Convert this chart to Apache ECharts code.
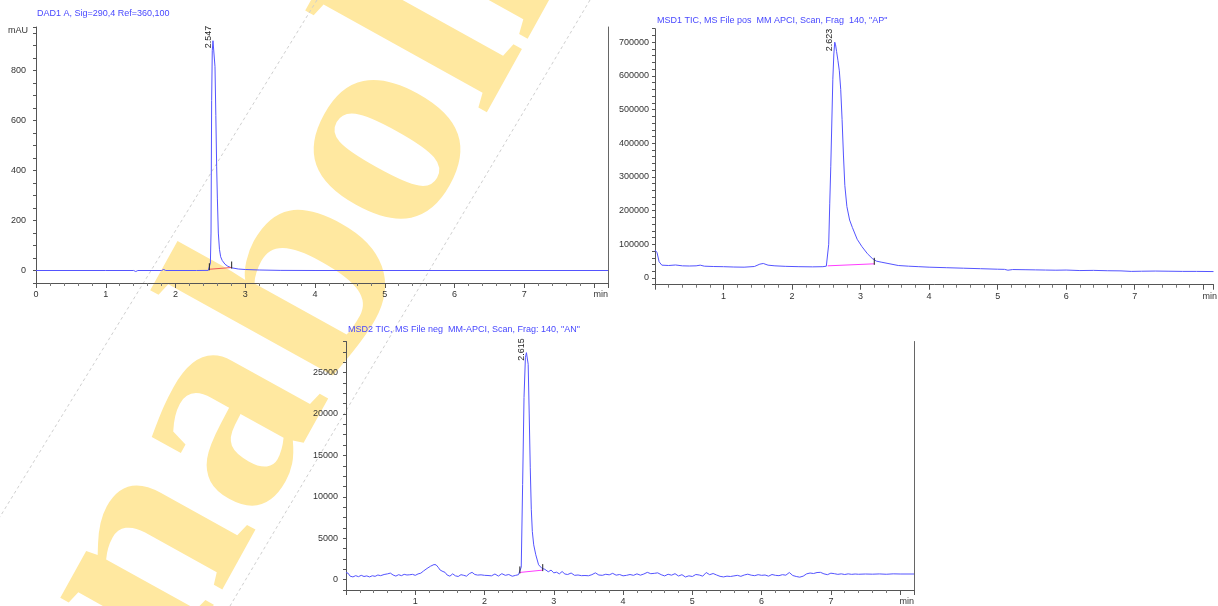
<!DOCTYPE html>
<html>
<head>
<meta charset="utf-8">
<title>DAD / MSD chromatograms</title>
<script src="https://cdn.jsdelivr.net/npm/echarts@6/dist/echarts.min.js"></script>
<style>
  html, body { margin: 0; padding: 0; background: #fff; }
  #chart { width: 1218px; height: 606px; }
</style>
</head>
<body>
<div id="chart"></div>
<script>
// DAD1 A trace (time in min, signal in mAU)
const dadTime = [0, 1.00, 1.40, 1.43, 1.46, 1.80, 1.83, 1.86, 2.30, 2.47,
  2.49, 2.50, 2.509, 2.518, 2.527, 2.537, 2.547, 2.555, 2.566, 2.578,
  2.59, 2.60, 2.614, 2.63, 2.647, 2.67, 2.71, 2.75, 2.80, 2.90,
  3.00, 3.20, 3.50, 4.00, 8.20];
const dadSignal = [0, 0, 0, -4, 0, 0, 4, 0, 0, 0.5,
  3, 30, 150, 680, 880, 920, 926, 912, 816, 620,
  415, 290, 150, 85, 55, 40, 25, 17, 11, 6,
  4, 2, 0.5, 0, 0];

// MSD1 TIC positive
const msd1Time = [0.00, 0.03, 0.06, 0.10, 0.20, 0.30, 0.40, 0.50, 0.60, 0.66,
  0.72, 0.85, 1.00, 1.15, 1.30, 1.45, 1.53, 1.58, 1.65, 1.75,
  1.90, 2.10, 2.30, 2.45, 2.50, 2.52, 2.535, 2.55, 2.565, 2.58,
  2.595, 2.61, 2.623, 2.635, 2.65, 2.67, 2.69, 2.71, 2.73, 2.75,
  2.77, 2.80, 2.84, 2.88, 2.95, 3.02, 3.10, 3.17, 3.23, 3.30,
  3.40, 3.55, 3.70, 3.85, 4.00, 4.25, 4.50, 4.75, 5.00, 5.10,
  5.15, 5.22, 5.40, 5.55, 5.70, 5.85, 6.00, 6.20, 6.40, 6.60,
  6.80, 6.95, 7.10, 7.30, 7.50, 7.70, 7.90, 8.15];
const msd1Signal = [83000, 75000, 48000, 38000, 37000, 38500, 36000, 35500, 36000, 38000,
  35000, 34000, 33500, 32500, 32000, 34000, 41000, 43000, 38000, 36000,
  34500, 33500, 33000, 33500, 35000, 40000, 100000, 220000, 330000, 460000,
  590000, 665000, 700000, 692000, 672000, 645000, 615000, 560000, 470000, 365000,
  275000, 212000, 172000, 150000, 115000, 93000, 72000, 58000, 50000, 47000,
  43000, 37000, 35000, 33500, 32000, 30500, 29000, 27500, 26000, 25500,
  23000, 25000, 24500, 24000, 23500, 23000, 23500, 22000, 22500, 21500,
  21000, 19500, 20000, 20500, 20000, 19500, 19500, 19000];

// MSD2 TIC negative
const msd2Time = [0.00, 0.03, 0.06, 0.10, 0.14, 0.18, 0.22, 0.26, 0.30, 0.34,
  0.38, 0.42, 0.46, 0.50, 0.55, 0.60, 0.64, 0.68, 0.72, 0.76,
  0.80, 0.84, 0.88, 0.92, 0.96, 1.00, 1.04, 1.08, 1.12, 1.17,
  1.22, 1.27, 1.30, 1.33, 1.36, 1.40, 1.43, 1.46, 1.50, 1.54,
  1.58, 1.62, 1.66, 1.70, 1.74, 1.78, 1.82, 1.86, 1.90, 1.95,
  2.00, 2.05, 2.10, 2.15, 2.20, 2.25, 2.30, 2.35, 2.40, 2.45,
  2.49, 2.51, 2.53, 2.55, 2.57, 2.59, 2.605, 2.615, 2.63, 2.645,
  2.66, 2.675, 2.69, 2.71, 2.74, 2.78, 2.83, 2.87, 2.92, 2.96,
  3.00, 3.04, 3.08, 3.12, 3.16, 3.20, 3.25, 3.30, 3.35, 3.40,
  3.45, 3.50, 3.55, 3.60, 3.65, 3.70, 3.75, 3.80, 3.85, 3.90,
  3.95, 4.00, 4.05, 4.10, 4.15, 4.20, 4.25, 4.30, 4.35, 4.40,
  4.45, 4.50, 4.55, 4.60, 4.65, 4.70, 4.75, 4.80, 4.85, 4.90,
  4.95, 5.00, 5.05, 5.10, 5.15, 5.20, 5.25, 5.30, 5.35, 5.40,
  5.45, 5.50, 5.55, 5.60, 5.65, 5.70, 5.75, 5.80, 5.85, 5.90,
  5.95, 6.00, 6.05, 6.10, 6.15, 6.20, 6.25, 6.30, 6.35, 6.40,
  6.45, 6.50, 6.55, 6.60, 6.65, 6.70, 6.75, 6.80, 6.85, 6.90,
  6.95, 7.00, 7.05, 7.10, 7.15, 7.20, 7.25, 7.30, 7.35, 7.40,
  7.50, 7.60, 7.70, 7.80, 7.90, 8.00, 8.20];
const msd2Signal = [850, 780, 420, 330, 480, 360, 520, 380, 450, 330,
  470, 400, 560, 480, 620, 700, 790, 560, 430, 600,
  480, 640, 560, 590, 640, 520, 690, 780, 1050, 1350,
  1620, 1820, 1790, 1500, 1150, 980, 880, 560, 420, 700,
  460, 380, 600, 520, 420, 720, 880, 620, 550, 580,
  520, 500, 460, 680, 430, 720, 520, 620, 410, 520,
  600, 700, 1500, 11500, 22000, 26800, 27400, 27500, 26000, 20000,
  13500, 8500, 5800, 4200, 3000, 1800, 1350, 1250, 950, 1150,
  820, 900, 700, 980, 680, 620, 800, 520, 560, 480,
  500, 470, 600, 820, 560, 520, 650, 580, 760, 540,
  620, 460, 520, 620, 520, 700, 540, 680, 880, 720,
  760, 820, 600, 450, 650, 540, 720, 440, 600, 320,
  460, 380, 620, 560, 420, 860, 600, 740, 560, 400,
  330, 420, 380, 450, 520, 400, 560, 660, 540, 480,
  600, 520, 560, 420, 620, 520, 480, 600, 540, 860,
  500, 380, 300, 420, 700, 800, 740, 860, 880, 700,
  600, 780, 720, 640, 700, 620, 700, 640, 680, 650,
  680, 660, 690, 650, 700, 680, 680];

// peak apex labels and integration baselines
const peakTimes = [2.547, 2.623, 2.615];
const peakHeights = [926, 700000, 27500];
const dadBaseTime = [2.485, 2.805];
const dadBaseValue = [5, 12];
const msd1BaseTime = [2.52, 3.20];
const msd1BaseValue = [36000, 42000];
const msd2BaseTime = [2.51, 2.84];
const msd2BaseValue = [870, 1150];

const titles = [
  'DAD1 A, Sig=290,4 Ref=360,100',
  'MSD1 TIC, MS File pos  MM APCI, Scan, Frag  140, "AP"',
  'MSD2 TIC, MS File neg  MM-APCI, Scan, Frag: 140, "AN"'
];

const FONT = '"Liberation Sans", Arial, sans-serif';
const traceColor = '#5454ff';
const axisColor = '#555';

const pair = (ts, vs) => ts.map((t, i) => [t, vs[i]]);

function timeAxis(gridIndex, max, showZero, minPastEnd) {
  return {
    type: 'value', gridIndex: gridIndex, min: 0, max: max, interval: 1,
    axisLine: { show: true, onZero: false, lineStyle: { color: axisColor } },
    axisTick: { show: true, length: 5, lineStyle: { color: axisColor } },
    minorTick: { show: true, splitNumber: 5, length: 3, lineStyle: { color: '#777' } },
    splitLine: { show: false },
    axisLabel: {
      margin: 7, fontSize: 9, color: '#333', fontFamily: FONT,
      formatter: v => (Number.isInteger(v) && v <= 7 && (showZero || v > 0)) ? String(v) : ''
    },
    name: 'min', nameLocation: 'end', nameGap: minPastEnd ? -11 : 0,
    nameTextStyle: { fontSize: 9, color: '#333', fontFamily: FONT, align: minPastEnd ? 'left' : 'right', verticalAlign: 'top', padding: [7, 0, 0, 0] }
  };
}

function signalAxis(gridIndex, min, max, interval, labelStep, margin) {
  return {
    type: 'value', gridIndex: gridIndex, min: min, max: max, interval: interval, position: 'left',
    axisLine: { show: true, onZero: false, lineStyle: { color: axisColor } },
    axisTick: { show: true, length: 3, lineStyle: { color: axisColor } },
    splitLine: { show: false },
    axisLabel: {
      margin: margin, fontSize: 9, color: '#333', fontFamily: FONT,
      formatter: v => (v >= 0 && v % labelStep === 0) ? String(v) : ''
    }
  };
}

function borderAxis(gridIndex) {
  return {
    type: 'value', gridIndex: gridIndex, position: 'right', min: 0, max: 1,
    axisLine: { show: true, onZero: false, lineStyle: { color: '#666' } },
    axisTick: { show: false }, axisLabel: { show: false }, splitLine: { show: false }
  };
}

function traceSeries(xi, yi, ts, vs) {
  return {
    type: 'line', xAxisIndex: xi, yAxisIndex: yi, data: pair(ts, vs),
    showSymbol: false, symbol: 'none', lineStyle: { color: traceColor, width: 1 }, z: 3
  };
}

function baselineSeries(xi, yi, ts, vs, color) {
  return {
    type: 'line', xAxisIndex: xi, yAxisIndex: yi, data: pair(ts, vs),
    showSymbol: false, symbol: 'none', lineStyle: { color: color, width: 1 }, z: 4
  };
}

function baseTickSeries(xi, yi, ts, vs) {
  return {
    type: 'custom', xAxisIndex: xi, yAxisIndex: yi, data: pair(ts, vs), z: 5,
    renderItem: (params, api) => {
      const p = api.coord([api.value(0), api.value(1)]);
      return { type: 'line', shape: { x1: p[0], y1: p[1] + 1, x2: p[0], y2: p[1] - 6 }, style: { stroke: '#222', lineWidth: 1 } };
    }
  };
}

function peakLabelSeries(xi, yi, i) {
  return {
    type: 'custom', xAxisIndex: xi, yAxisIndex: yi, data: [[peakTimes[i], peakHeights[i]]], z: 6, clip: false,
    renderItem: (params, api) => {
      const p = api.coord([api.value(0), api.value(1)]);
      return {
        type: 'text', x: p[0] - 1, y: p[1] + 9, rotation: Math.PI / 2,
        style: { text: api.value(0).toFixed(3), fill: '#222', font: '9px ' + FONT, align: 'left', verticalAlign: 'bottom' }
      };
    }
  };
}

const chart = echarts.init(document.getElementById('chart'));
chart.setOption({
  animation: false,
  backgroundColor: '#fff',
  title: [
    { text: titles[0], left: 37, top: 9, padding: 0, textStyle: { fontSize: 9, fontWeight: 'normal', color: '#4848ff', fontFamily: FONT } },
    { text: titles[1], left: 657, top: 16, padding: 0, textStyle: { fontSize: 9, fontWeight: 'normal', color: '#4848ff', fontFamily: FONT } },
    { text: titles[2], left: 348, top: 325, padding: 0, textStyle: { fontSize: 9, fontWeight: 'normal', color: '#4848ff', fontFamily: FONT } }
  ],
  graphic: [
    { type: 'text', x: 109, y: 634, rotation: 61 * Math.PI / 180, z: -10, silent: true,
      style: { text: 'nabolin', font: 'bold 300px "Liberation Serif", serif', fill: '#ffe8a0', align: 'left', verticalAlign: 'middle' } },
    { type: 'line', z: -9, silent: true, shape: { x1: 317, y1: 0, x2: -40, y2: 582 }, style: { stroke: '#cfcfcf', lineWidth: 1, lineDash: [3, 3] } },
    { type: 'line', z: -9, silent: true, shape: { x1: 590, y1: 0, x2: 230, y2: 606 }, style: { stroke: '#cfcfcf', lineWidth: 1, lineDash: [3, 3] } }
  ],
  grid: [
    { left: 36, top: 27, width: 572, height: 256 },
    { left: 655, top: 28.7, width: 562, height: 256 },
    { left: 346, top: 341.5, width: 568, height: 252 }
  ],
  xAxis: [
    timeAxis(0, 8.2, true, false),
    timeAxis(1, 8.15, false, true),
    timeAxis(2, 8.2, false, false)
  ],
  yAxis: [
    Object.assign(signalAxis(0, -50, 975, 50, 200, 10), {
      name: 'mAU', nameLocation: 'end', nameGap: -4,
      nameTextStyle: { fontSize: 9, color: '#333', fontFamily: FONT, align: 'right', verticalAlign: 'middle', padding: [0, 8, 0, 0] }
    }),
    borderAxis(0),
    signalAxis(1, -20000, 740000, 20000, 100000, 6),
    signalAxis(2, -1250, 28750, 1250, 5000, 8),
    borderAxis(2)
  ],
  series: [
    traceSeries(0, 0, dadTime, dadSignal),
    baselineSeries(0, 0, dadBaseTime, dadBaseValue, '#f05a5a'),
    baseTickSeries(0, 0, dadBaseTime, dadBaseValue),
    peakLabelSeries(0, 0, 0),

    traceSeries(1, 2, msd1Time, msd1Signal),
    baselineSeries(1, 2, msd1BaseTime, msd1BaseValue, '#ff3cff'),
    baseTickSeries(1, 2, msd1BaseTime.slice(1), msd1BaseValue.slice(1)),
    peakLabelSeries(1, 2, 1),

    traceSeries(2, 3, msd2Time, msd2Signal),
    baselineSeries(2, 3, msd2BaseTime, msd2BaseValue, '#ff3cff'),
    baseTickSeries(2, 3, msd2BaseTime, msd2BaseValue),
    peakLabelSeries(2, 3, 2)
  ]
});
</script>
</body>
</html>
